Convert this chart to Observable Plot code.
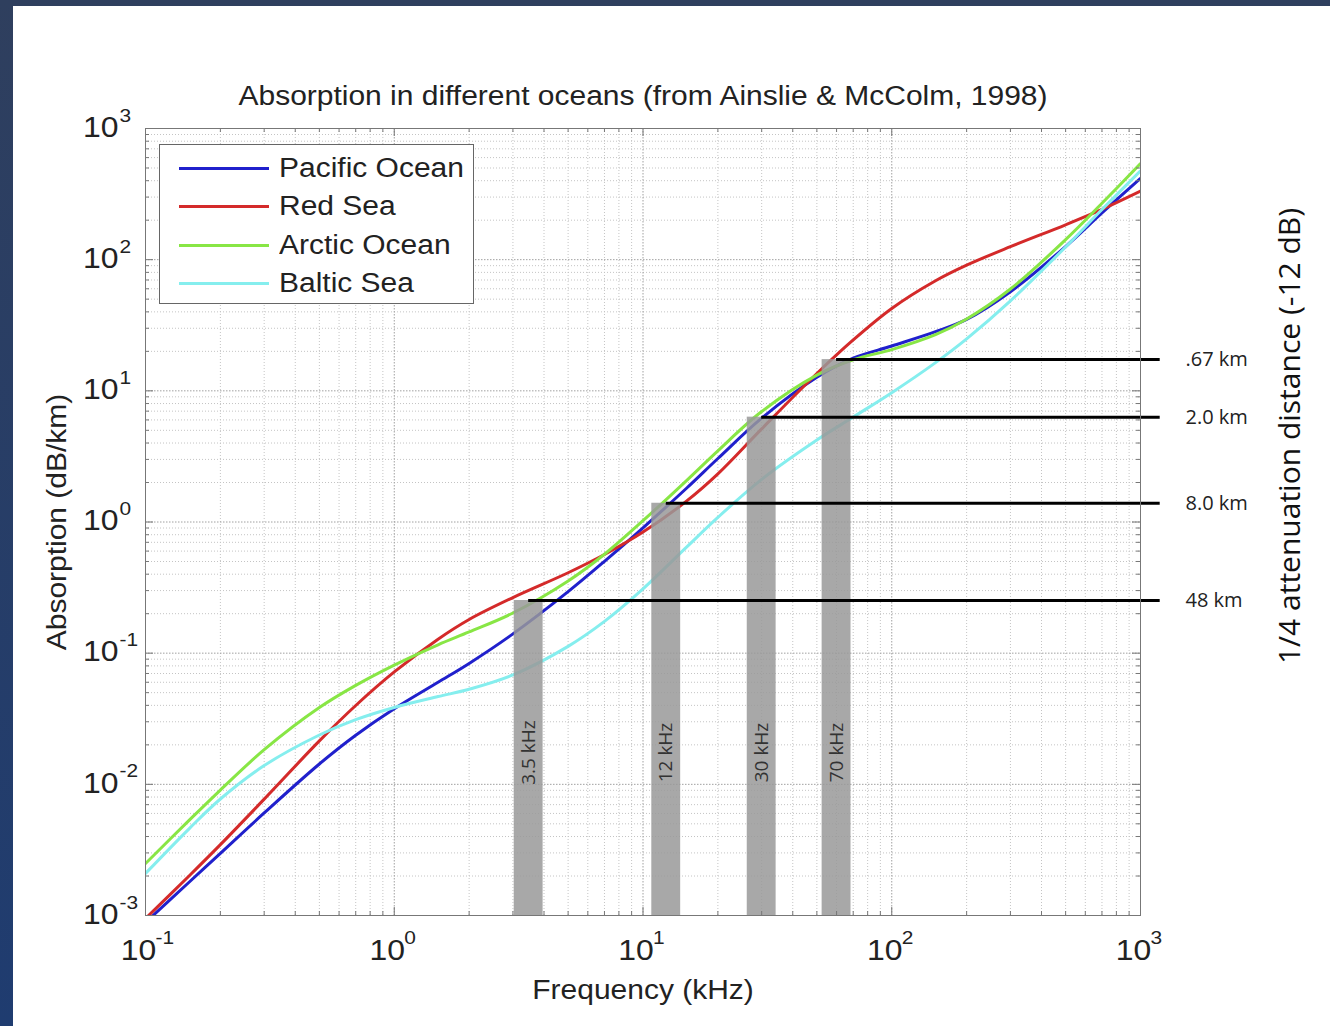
<!DOCTYPE html>
<html><head><meta charset="utf-8">
<script src="https://cdn.jsdelivr.net/npm/d3@7"></script>
<script src="https://cdn.jsdelivr.net/npm/@observablehq/plot@0.6"></script>
<style>
html,body{margin:0;padding:0;}
body{width:1330px;height:1026px;background:linear-gradient(#2f3f5e,#1f3c70);position:relative;overflow:hidden;}
#wrap{position:absolute;left:13px;top:6px;width:1317px;height:1020px;background:#fff;}
#legend{position:absolute;left:146px;top:138px;width:313px;height:158px;border:1px solid #666;background:#fff;}
.row{position:absolute;left:0;height:30px;width:313px;}
.sw{position:absolute;left:19px;top:13.5px;width:90px;height:3px;}
.lb{position:absolute;left:119px;top:0;line-height:30px;font-size:27px;font-family:"Liberation Sans",Arial,sans-serif;color:#222;transform:scaleX(1.11);transform-origin:left center;white-space:nowrap;}
</style></head>
<body><div id="wrap"></div>
<script>
// ---- data ----
const freqs   = [0.1,0.15,0.2,0.3,0.5,0.7,1,1.5,2,3,5,7,10,15,20,30,50,70,100,150,200,300,500,700,1000];
const pacific = [0.000885,0.0018,0.00298,0.00605,0.01429,0.02366,0.03767,0.05998,0.08356,0.1403,0.2944,0.5012,0.9036,1.816,3.048,6.19,12.68,17.74,21.98,28.25,35.08,57.02,125.9,227.0,416.9];
const redSea  = [0.000948,0.00201,0.00347,0.00771,0.02143,0.0399,0.07194,0.1279,0.1807,0.2655,0.4102,0.5649,0.8375,1.449,2.328,5.129,13.55,24.43,42.46,69.02,90.78,125.6,184.5,241.5,332.7];
const arctic  = [0.00249,0.00533,0.00904,0.01837,0.0385,0.0568,0.0811,0.1159,0.1452,0.2023,0.3548,0.5675,1.023,2.08,3.491,6.95,13.18,17.26,20.61,26.79,35.24,59.7,142.2,269.2,539.5];
const baltic  = [0.00209,0.0046,0.00773,0.0139,0.02377,0.03112,0.03855,0.04667,0.05309,0.06823,0.1127,0.1746,0.309,0.6457,1.084,2.113,4.217,6.31,9.683,16.41,24.89,48.53,125.0,241.0,475.3];
const seriesNames  = ["Pacific Ocean","Red Sea","Arctic Ocean","Baltic Sea"];
const seriesColors = ["#2020cc","#d42a2a","#88e645","#85eeee"];
const seriesValues = [pacific, redSea, arctic, baltic];

const bandLabels  = ["3.5 kHz","12 kHz","30 kHz","70 kHz"];
const bandCenters = [3.47, 12.4, 30, 60];
const distLabels  = ["48 km","8.0 km","2.0 km",".67 km"];
const distLevels  = [0.252, 1.39, 6.3, 17.3];
const lineEnd = 1200;

const xExps = [-1,0,1,2,3];
const yExps = [-3,-2,-1,0,1,2,3];
const titleText = "Absorption in different oceans (from Ainslie & McColm, 1998)";
const xLabel = "Frequency (kHz)";
const yLabel = "Absorption (dB/km)";
const y2Label = "1/4 attenuation distance (-12 dB)";

// ---- derived tables ----
const rows = seriesNames.flatMap((name,i)=>freqs.map((f,j)=>({name, f, a: seriesValues[i][j]})));
const bands = bandLabels.map((label,i)=>({label, f: bandCenters[i], level: distLevels[i], dist: distLabels[i]}));
const xDomain = [10**xExps[0], 10**xExps[xExps.length-1]];
const yDomain = [10**yExps[0], 10**yExps[yExps.length-1]];
const xMajor = xExps.map(e=>10**e);
const yMajor = yExps.map(e=>10**e);
const xMinor = xExps.slice(0,-1).flatMap(e=>d3.range(2,10).map(m=>m*10**e));
const yMinor = yExps.slice(0,-1).flatMap(e=>d3.range(2,10).map(m=>m*10**e));

const W = 995, H = 787;
const LABELFONT = "Liberation Sans, Arial, sans-serif";
const TICKFONT = "Arial, Liberation Sans, sans-serif";
const CAL = "Open Sans, sans-serif";
const bandHalf = 1.143;
const axisGray = "#777";

const chart = Plot.plot({
  width: 1317, height: 1020,
  marginLeft: 132, marginRight: 190, marginTop: 122, marginBottom: 111,
  style: {background: "#fff", overflow: "visible"},
  x: {type: "log", domain: xDomain, axis: null},
  y: {type: "log", domain: yDomain, axis: null},
  marks: [
    Plot.ruleX(xMinor, {stroke: "#c4c4c4", strokeDasharray: "1,2"}),
    Plot.ruleY(yMinor, {stroke: "#c4c4c4", strokeDasharray: "1,2"}),
    Plot.ruleX(xMajor, {stroke: "#a0a0a0", strokeDasharray: "1.5,1.5"}),
    Plot.ruleY(yMajor, {stroke: "#a0a0a0", strokeDasharray: "1.5,1.5"}),
    ...seriesNames.map((name,i)=>Plot.line(rows.filter(r=>r.name===name), {
      x: "f", y: "a", stroke: seriesColors[i], strokeWidth: 3, curve: "catmull-rom", clip: true
    })),
    Plot.rect(bands, {x1: d=>d.f/bandHalf, x2: d=>d.f*bandHalf, y1: d=>yDomain[0], y2: "level", fill: "#999", fillOpacity: 0.85}),
    Plot.ruleY(bands, {y: "level", x1: "f", x2: d=>lineEnd, stroke: "#000", strokeWidth: 3}),
    Plot.text(bands, {x: "f", text: "label", frameAnchor: "bottom", dy: -163, rotate: -90, textAnchor: "middle", lineAnchor: "middle", fontSize: 19, fontFamily: CAL, fill: "#333"}),
    Plot.text(bands, {y: "level", text: "dist", frameAnchor: "right", dx: 45, textAnchor: "start", lineAnchor: "middle", fontSize: 20, fontFamily: CAL, fill: "#222"}),
    // inward ticks
    Plot.tickX(xMinor, {insetTop: H-4, stroke: axisGray}),
    Plot.tickX(xMinor, {insetBottom: H-4, stroke: axisGray}),
    Plot.tickX(xMajor, {insetTop: H-8, stroke: axisGray}),
    Plot.tickX(xMajor, {insetBottom: H-8, stroke: axisGray}),
    Plot.tickY(yMinor, {insetRight: W-4, stroke: axisGray}),
    Plot.tickY(yMinor, {insetLeft: W-4, stroke: axisGray}),
    Plot.tickY(yMajor, {insetRight: W-8, stroke: axisGray}),
    Plot.tickY(yMajor, {insetLeft: W-8, stroke: axisGray}),
    Plot.frame({stroke: axisGray}),
    // tick labels
    Plot.text(xExps, {x: e=>10**e, text: ()=>"10", frameAnchor: "bottom", dy: 35, dx: -7, textAnchor: "middle", lineAnchor: "middle", fontSize: 29, fontFamily: TICKFONT, fill: "#222"}),
    Plot.text(xExps, {x: e=>10**e, text: e=>String(e), frameAnchor: "bottom", dy: 22, dx: 10, textAnchor: "start", lineAnchor: "middle", fontSize: 19, fontFamily: TICKFONT, fill: "#222"}),
    Plot.text(yExps, {y: e=>10**e, text: ()=>"10", frameAnchor: "left", dx: -27, dy: -1, textAnchor: "end", lineAnchor: "middle", fontSize: 29, fontFamily: TICKFONT, fill: "#222"}),
    Plot.text(yExps, {y: e=>10**e, text: e=>String(e), frameAnchor: "left", dx: -26, dy: -13, textAnchor: "start", lineAnchor: "middle", fontSize: 19, fontFamily: TICKFONT, fill: "#222"}),
    // titles
    Plot.text([titleText], {frameAnchor: "top", dy: -32, textAnchor: "middle", lineAnchor: "middle", fontSize: 27, fontFamily: LABELFONT, fill: "#222"}),
    Plot.text([xLabel], {frameAnchor: "bottom", dy: 75, textAnchor: "middle", lineAnchor: "middle", fontSize: 27, fontFamily: LABELFONT, fill: "#222"}),
    Plot.text([yLabel], {frameAnchor: "left", dx: -88, rotate: -90, textAnchor: "middle", lineAnchor: "middle", fontSize: 27, fontFamily: LABELFONT, fill: "#222"}),
    Plot.text([y2Label], {frameAnchor: "right", dx: 150, dy: -86, rotate: -90, textAnchor: "middle", lineAnchor: "middle", fontSize: 30, fontFamily: CAL, fill: "#111"})
  ]
});
const wrap = document.getElementById("wrap");
wrap.append(chart);

function stretch(font, k){
  chart.querySelectorAll('g[font-family="' + font + '"] text').forEach(t=>{
    const L = t.getComputedTextLength();
    if (L > 0) { t.setAttribute("textLength", L*k); t.setAttribute("lengthAdjust", "spacingAndGlyphs"); }
  });
}
stretch(LABELFONT, 1.11);
stretch(TICKFONT, 1.1);

// legend
const legend = document.createElement("div");
legend.id = "legend";
const rowCenters = [23, 61, 100, 138];
seriesNames.forEach((name,i)=>{
  const r = document.createElement("div");
  r.className = "row";
  r.style.top = (rowCenters[i]-15) + "px";
  const sw = document.createElement("div");
  sw.className = "sw"; sw.style.background = seriesColors[i];
  const lb = document.createElement("div");
  lb.className = "lb"; lb.textContent = name;
  r.append(sw, lb);
  legend.append(r);
});
wrap.append(legend);
</script></body></html>
